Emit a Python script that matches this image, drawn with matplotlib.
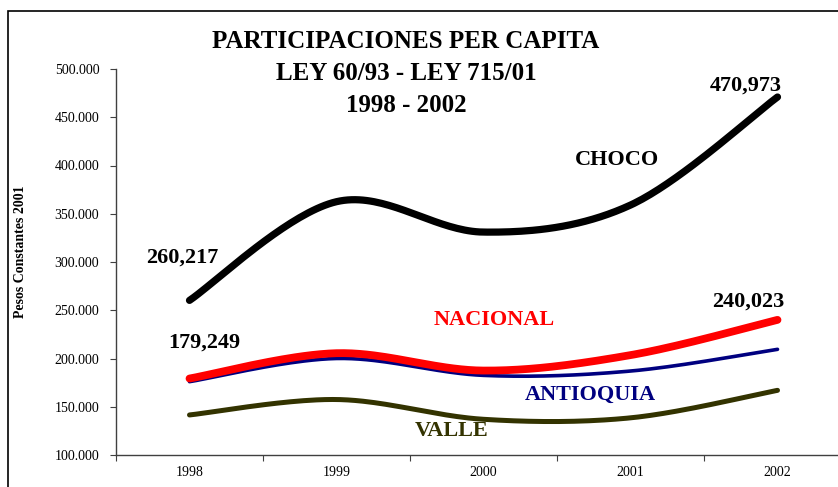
import numpy as np
import matplotlib
matplotlib.use("Agg")
import matplotlib.pyplot as plt
from matplotlib.patches import Rectangle

years = ['1998', '1999', '2000', '2001', '2002']
choco = [260.217, 362.5, 331.0, 359.0, 470.973]
nacional = [179.249, 205.5, 187.5, 203.5, 240.023]
antioquia = [176.0, 200.0, 182.5, 187.0, 209.5]
valle = [141.5, 157.5, 137.0, 138.5, 167.0]


def smooth(vals, n=40):
    # catmull-rom style smoothing like excel's "smoothed line"
    x = np.arange(len(vals), dtype=float)
    y = np.asarray(vals, dtype=float)
    px = np.concatenate([[x[0]], x, [x[-1]]])
    py = np.concatenate([[y[0]], y, [y[-1]]])
    xs, ys = [], []
    for i in range(1, len(px) - 2):
        p0, p1, p2, p3 = (np.array([px[j], py[j]]) for j in range(i - 1, i + 3))
        c1 = p1 + (p2 - p0) / 6.0
        c2 = p2 - (p3 - p1) / 6.0
        t = np.linspace(0, 1, n)[:, None]
        b = (1 - t) ** 3 * p1 + 3 * (1 - t) ** 2 * t * c1 + 3 * (1 - t) * t ** 2 * c2 + t ** 3 * p2
        xs.append(b[:, 0])
        ys.append(b[:, 1])
    return np.concatenate(xs), np.concatenate(ys)


plt.rcParams['font.family'] = ['Liberation Serif', 'DejaVu Serif']

fig = plt.figure(figsize=(8.38, 4.87), dpi=100)
fig.patches.append(Rectangle((8 / 838, -0.1), 1.2, 1 - 11 / 487 + 0.1, transform=fig.transFigure,
                             fill=False, edgecolor='black', linewidth=1.2))

ax = fig.add_axes([116 / 838, 1 - 455 / 487, 735 / 838, 386 / 487])

# (values, colour, width, z-order)
series = [
    (choco, 'black', 5.2, 2),
    (valle, '#333300', 3.6, 2),
    (antioquia, '#000080', 2.6, 3),
    (nacional, '#ff0000', 5.6, 4),
]
for vals, col, lw, z in series:
    sx, sy = smooth(vals)
    ax.plot(sx, sy, color=col, lw=lw, solid_capstyle='round', zorder=z)

ax.set_xlim(-0.5, 4.5)
ax.set_ylim(100, 500)
ax.set_yticks(np.arange(100, 501, 50))
ax.set_yticklabels([f'{v}.000' for v in range(100, 501, 50)], fontsize=10)
ax.set_xticks(np.arange(-0.5, 4.6, 1.0))
ax.set_xticklabels([])
ax.set_xticks(np.arange(5), minor=True)
ax.set_xticklabels(years, minor=True, fontsize=10)
ax.tick_params(axis='x', which='minor', length=0, pad=8)
ax.tick_params(axis='x', which='major', length=4, direction='out', color='#404040')
ax.tick_params(axis='y', length=4, direction='out', color='#404040', pad=8)
for s in ['top', 'right']:
    ax.spines[s].set_visible(False)
for s in ['left', 'bottom']:
    ax.spines[s].set_color('#404040')
    ax.spines[s].set_linewidth(1.0)
ax.patch.set_alpha(0)

fig.text(21 / 838, 1 - 252 / 487, 'Pesos Constantes 2001', rotation=90, fontsize=10,
         fontweight='bold', ha='center', va='center')

title = ['PARTICIPACIONES PER CAPITA', 'LEY 60/93 - LEY 715/01', '1998 - 2002']
for i, line in enumerate(title):
    fig.text(406 / 838, 1 - (41 + i * 32.5) / 487, line, fontsize=18, fontweight='bold',
             ha='center', va='center')

bold = dict(fontweight='bold', ha='center', va='center', fontsize=16)
ax.annotate('260,217', (0, choco[0]), xytext=(-5, 31), textcoords='offset points', **bold)
ax.annotate('470,973', (4, choco[4]), xytext=(-23, 8), textcoords='offset points', **bold)
ax.annotate('179,249', (0, nacional[0]), xytext=(11, 26), textcoords='offset points', **bold)
ax.annotate('240,023', (4, nacional[4]), xytext=(-21, 13), textcoords='offset points', **bold)

name_font = dict(fontweight='bold', ha='center', va='center', fontsize=16)
ax.text(2.91, 406, 'CHOCO', color='black', **name_font)
ax.text(2.07, 240, 'NACIONAL', color='#ff0000', **name_font)
ax.text(2.73, 162, 'ANTIOQUIA', color='#000080', **name_font)
ax.text(1.78, 125, 'VALLE', color='#333300', **name_font)

fig.savefig('out.png', dpi=100)
